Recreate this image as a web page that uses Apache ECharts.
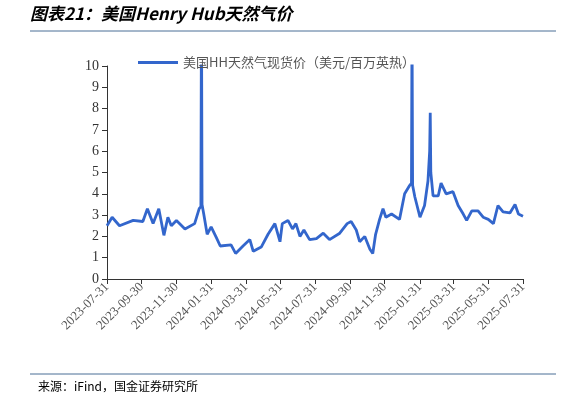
<!DOCTYPE html>
<html><head><meta charset="utf-8">
<script src="https://cdn.jsdelivr.net/npm/echarts@6/dist/echarts.min.js"></script>
<style>html,body{margin:0;padding:0;background:#fff}#c{width:561px;height:403px}</style>
</head><body><div id="c"></div>
<script>
const startDate = '2023-07-31';
const totalDays = 731;
const dayOffsets = [0,9,22,46,63,71,81,91,100,107,113,122,137,154,162,165,166,167,170,176,183,192,199,218,226,239,251,257,271,283,295,304,308,318,326,332,339,346,356,368,380,391,409,422,429,438,444,453,462,467,472,479,485,490,500,514,523,532,535,536,537,541,550,558,564,567,568,569,573,582,587,596,608,617,626,632,641,652,661,670,679,687,696,708,717,723,731];
const prices = [2.5,2.9,2.5,2.75,2.7,3.3,2.6,3.3,2.05,2.9,2.5,2.75,2.35,2.6,3.3,3.4,13,3.5,3.05,2.1,2.45,1.95,1.55,1.6,1.2,1.55,1.85,1.3,1.5,2.1,2.6,1.75,2.6,2.75,2.35,2.6,2.0,2.3,1.85,1.9,2.15,1.85,2.15,2.6,2.7,2.3,1.75,2.0,1.4,1.2,2.1,2.8,3.3,2.9,3.05,2.8,4.0,4.4,4.5,12,4.4,3.85,2.9,3.45,4.6,6.0,7.8,5.0,3.9,3.9,4.5,4.0,4.1,3.45,3.05,2.75,3.2,3.2,2.9,2.8,2.6,3.45,3.15,3.1,3.5,3.05,2.95];
const legendName = '美国HH天然气现货价（美元/百万英热）';

function fmt(d){return d.getUTCFullYear()+'-'+String(d.getUTCMonth()+1).padStart(2,'0')+'-'+String(d.getUTCDate()).padStart(2,'0');}
const s0 = new Date(startDate+'T00:00:00Z');
const categories = [];
for(let i=0;i<=totalDays;i++){categories.push(fmt(new Date(s0.getTime()+i*86400000)));}
const values = new Array(categories.length).fill(null);
dayOffsets.forEach((o,i)=>{values[o]=prices[i];});
const tickLabels = ['2023-07-31','2023-09-30','2023-11-30','2024-01-31','2024-03-31','2024-05-31','2024-07-31','2024-09-30','2024-11-30','2025-01-31','2025-03-31','2025-05-31','2025-07-31'];
const isTick = (i)=>tickLabels.indexOf(categories[i])>=0;

const chart = echarts.init(document.getElementById('c'));
chart.setOption({
  animation:false,
  graphic:[
    {type:'text',left:30,top:5,style:{text:'图表21：美国Henry Hub天然气价',font:'italic bold 17px "Noto Sans CJK SC"',fill:'#000'}},
    {type:'line',shape:{x1:30,y1:31,x2:556,y2:31},style:{stroke:'#4a6f96',lineWidth:1}},
    {type:'line',shape:{x1:30,y1:374,x2:556,y2:374},style:{stroke:'#4a6f96',lineWidth:1}},
    {type:'text',left:38,top:380,style:{text:'来源：iFind，国金证券研究所',font:'12px "Noto Sans CJK SC"',fill:'#000'}}
  ],
  legend:{top:51,left:133,itemWidth:40,itemHeight:3,icon:'rect',textStyle:{fontFamily:'Noto Sans CJK SC',fontSize:13,color:'#555'},data:[legendName]},
  grid:{left:107,right:38,top:66,bottom:124,containLabel:false},
  xAxis:{type:'category',data:categories,boundaryGap:false,
    axisLine:{lineStyle:{color:'#333'}},
    axisTick:{interval:(i)=>isTick(i),length:5,lineStyle:{color:'#333'}},
    axisLabel:{interval:(i)=>isTick(i),rotate:45,color:'#555',fontFamily:'Liberation Serif',fontSize:13,margin:6}},
  yAxis:{type:'value',min:0,max:10,interval:1,
    axisLine:{show:true,lineStyle:{color:'#333'}},
    axisTick:{show:true,length:5,lineStyle:{color:'#333'}},
    splitLine:{show:false},
    axisLabel:{color:'#333',fontFamily:'Liberation Serif',fontSize:14,margin:8}},
  series:[{name:legendName,type:'line',data:values,connectNulls:true,showSymbol:false,clip:true,
    lineStyle:{color:'#3366cc',width:2.8},itemStyle:{color:'#3366cc'}}]
});
</script></body></html>
